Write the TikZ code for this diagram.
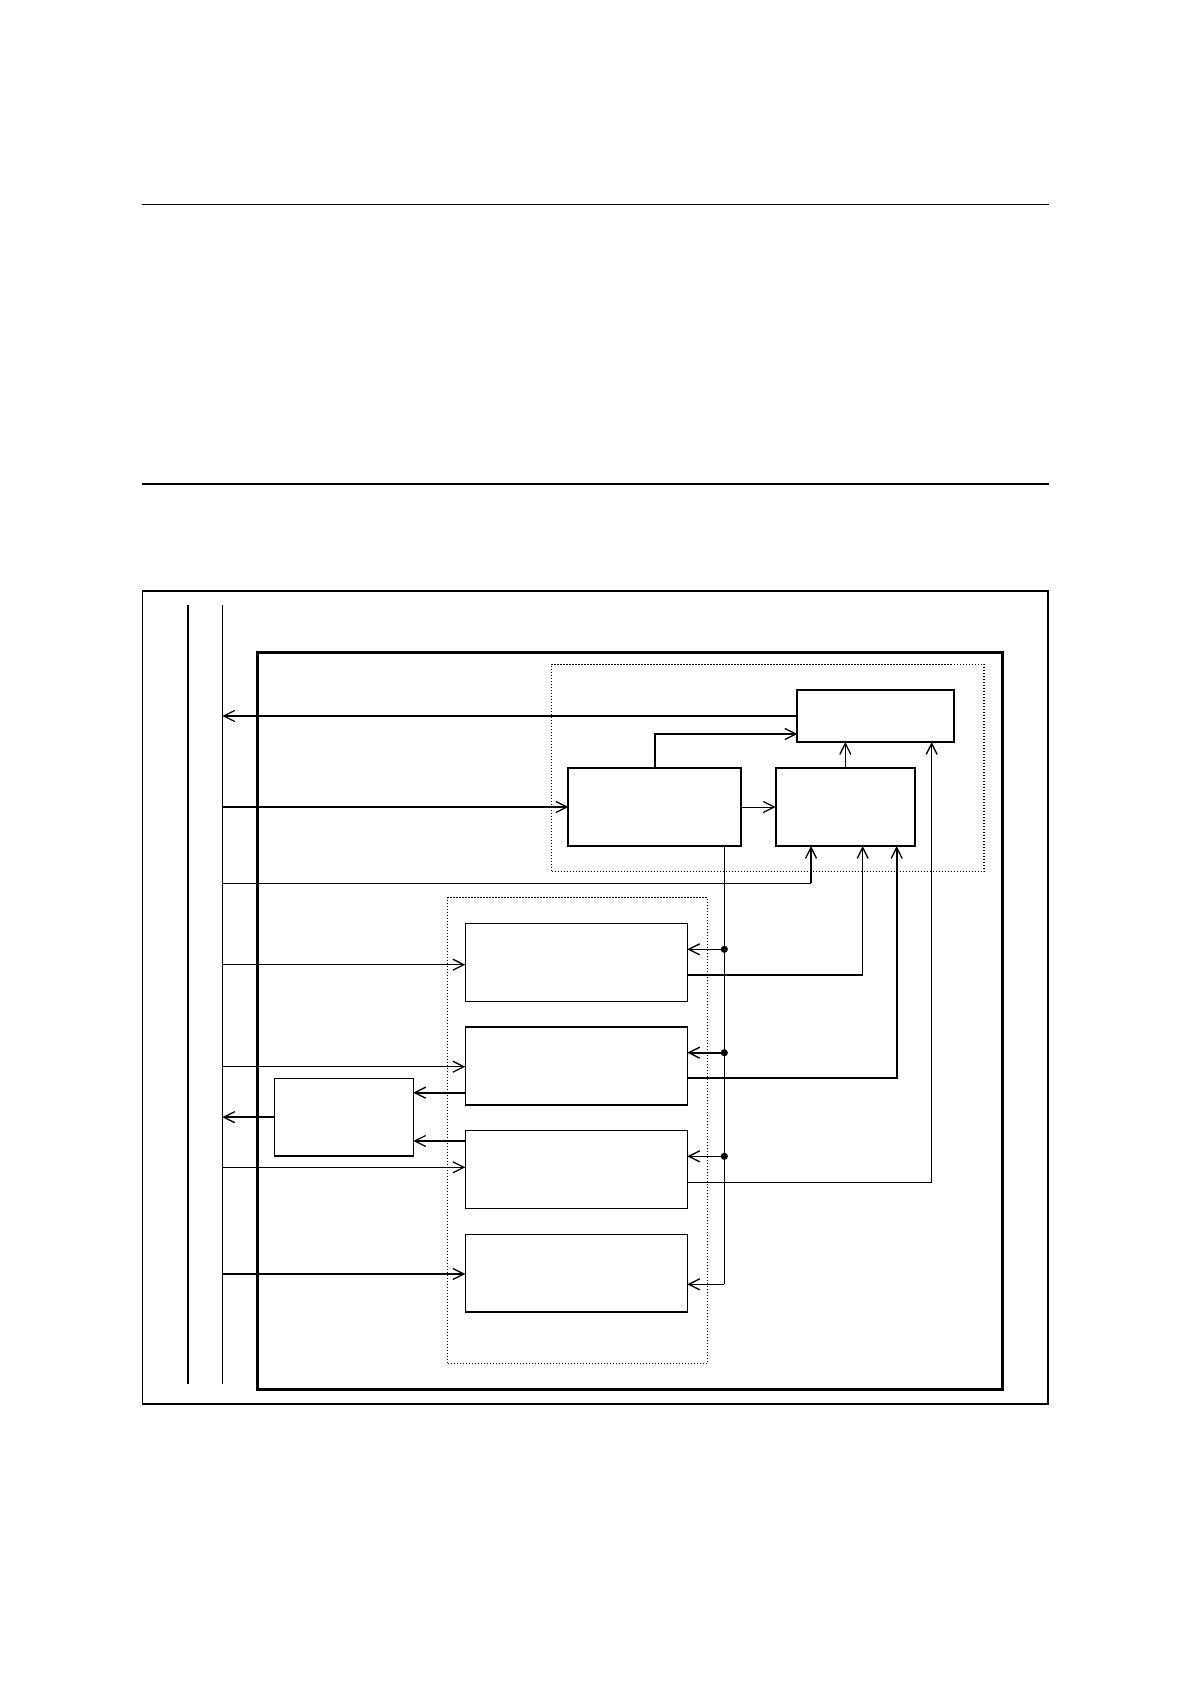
\documentclass[tikz,border=0pt]{standalone}
\usetikzlibrary{arrows.meta,fit,calc}
\begin{document}
\begin{tikzpicture}[x=0.5bp,y=-0.5bp,
  thinl/.style={line width=0.5bp},
  medl/.style={line width=0.9bp},
  arr/.style={-{Straight Barb[length=5.5bp,width=5.5bp,line width=0.65bp]}},
  blk/.style={draw,rectangle,inner sep=0pt,outer sep=0pt},
  grp/.style={draw,rectangle,inner sep=0pt,outer sep=0pt,line width=0.55bp,dash pattern=on 0.6bp off 0.9bp},
  dotnode/.style={circle,fill,draw=none,inner sep=0pt,outer sep=0pt,minimum size=3.6bp}]
\useasboundingbox (0,0) rectangle (1190,1684);

% page rules
\coordinate (r1a) at (142,204.3); \coordinate (r1b) at (1048.7,204.3);
\coordinate (r2a) at (142,484);   \coordinate (r2b) at (1048.7,484);
\draw[line width=0.65bp] (r1a) -- (r1b);
\draw[line width=0.65bp] (r2a) -- (r2b);

% frames
\node[blk,line width=0.9bp,fit={(142.5,591) (1048.3,1404)}] (outer) {};
\node[blk,line width=1.5bp,fit={(257.3,652.5) (1002,1389.3)}] (inner) {};

% bus lines
\coordinate (b1top) at (188,605);   \coordinate (b1bot) at (188,1384.3);
\coordinate (b2top) at (222.3,605); \coordinate (b2bot) at (222.3,1384.3);
\draw[line width=0.65bp] (b1top) -- (b1bot);
\draw[thinl] (b2top) -- (b2bot);

% groups
\node[grp,fit={(551.5,664.3) (984,871.5)}] (G1) {};
\node[grp,fit={(447.5,897.7) (707.2,1363.5)}] (G2) {};

% blocks
\node[blk,medl,fit={(797.3,690) (954.3,742)}] (C) {};
\node[blk,medl,fit={(568.3,768) (741.3,846)}] (A) {};
\node[blk,medl,fit={(775.7,768) (915,846)}] (B) {};
\node[blk,thinl,fit={(465.3,923.3) (687.3,1001.3)}] (D1) {};
\node[blk,line width=0.8bp,fit={(465.3,1026.7) (687.3,1105)}] (D2) {};
\node[blk,thinl,fit={(465.3,1130.3) (687.3,1208.3)}] (D3) {};
\node[blk,thinl,fit={(465.3,1234.3) (687.3,1312)}] (D4) {};
\draw[medl] (D4.south west) -- (D4.south east);
\node[blk,line width=0.8bp,fit={(274.3,1078.3) (413.3,1156)}] (E) {};

% upper group connectors
\draw[arr,medl] (C.west) -- (C.west -| b2top);
\draw[arr,medl] (b2top |- A.west) -- (A.west);
\draw[arr,medl] (A.north) |- (C.west |- 0,734);
\draw[arr,thinl] (A.east) -- (B.west);
\draw[arr,thinl] (B.north) -- (B.north |- C.south);

% bus to B
\coordinate (bB) at (811,883.3);
\draw[thinl] (b2top |- bB) -- (bB);
\draw[arr,medl] (bB) -- (B.south -| bB);

% bus to lower blocks
\draw[arr,thinl] (b2top |- 0,964.7) -- (D1.west |- 0,964.7);
\draw[arr,thinl] (b2top |- 0,1066.7) -- (D2.west |- 0,1066.7);
\draw[arr,thinl] (b2top |- 0,1167.3) -- (D3.west |- 0,1167.3);
\draw[arr,medl] (b2top |- 0,1274) -- (D4.west |- 0,1274);

% E connections
\draw[arr,medl] (D2.west |- 0,1092.7) -- (E.east |- 0,1092.7);
\draw[arr,medl] (D3.west |- 0,1141) -- (E.east |- 0,1141);
\draw[arr,medl] (E.west) -- (E.west -| b2top);

% distribution line from A
\node[dotnode] (j1) at (724.3,949.3) {};
\node[dotnode] (j2) at (724.3,1052.7) {};
\node[dotnode] (j3) at (724.3,1156.3) {};
\coordinate (jend) at (724.3,1284.3);
\draw[thinl] (A.south -| j1) -- (jend);
\draw[arr,thinl] (jend) -- (D4.east |- jend);
\draw[arr,thinl] (j1) -- (D1.east |- j1);
\draw[arr,medl] (j2) -- (D2.east |- j2);
\draw[arr,thinl] (j3) -- (D3.east |- j3);

% outputs of lower blocks to B and C
\coordinate (o1) at (862.7,974.7);
\draw[medl] (D1.east |- o1) -- (o1);
\draw[arr,thinl] (o1) -- (B.south -| o1);
\draw[arr,medl] (D2.east |- 0,1078.3) -| (B.south -| 896.7,0);
\draw[arr,thinl] (D3.east |- 0,1182.3) -| (C.south -| 931.7,0);
\end{tikzpicture}
\end{document}
